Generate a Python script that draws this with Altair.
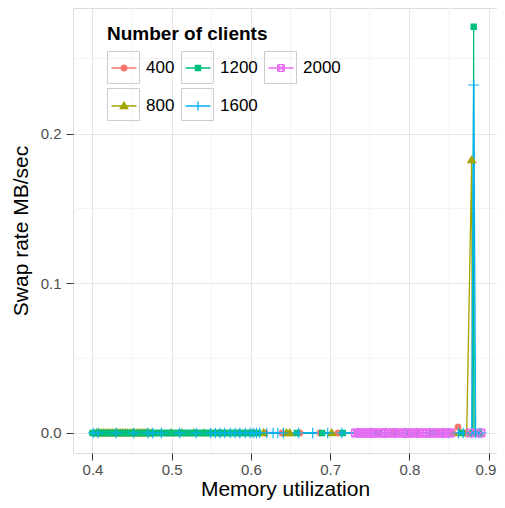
import altair as alt
import pandas as pd

# ---------------- data ----------------
series_order = ["400", "800", "1200", "1600", "2000"]
series_colors = ["#F8766D", "#A3A500", "#00BF7D", "#00B0F6", "#E76BF3"]

x400 = [0.562, 0.585, 0.603, 0.618, 0.639, 0.662, 0.687, 0.710, 0.735, 0.760,
        0.785, 0.810, 0.835, 0.852, 0.8615, 0.870]
y400 = [0.0, 0.0, 0.0, 0.0, 0.0, 0.0, 0.0, 0.0, 0.0, 0.0,
        0.0, 0.0, 0.0, 0.0, 0.004, 0.0]

x800 = [0.405, 0.408, 0.411, 0.414, 0.417, 0.420, 0.423, 0.426, 0.429, 0.432,
        0.435, 0.438, 0.441, 0.444, 0.447, 0.450, 0.453, 0.456, 0.459, 0.462,
        0.465, 0.468, 0.471, 0.475, 0.499, 0.513, 0.528, 0.541, 0.616, 0.645,
        0.649, 0.702, 0.780, 0.856, 0.8725, 0.8788, 0.8797, 0.889]
y800 = [0.0, 0.0, 0.0, 0.0, 0.0, 0.0, 0.0, 0.0, 0.0, 0.0,
        0.0, 0.0, 0.0, 0.0, 0.0, 0.0, 0.0, 0.0, 0.0, 0.0,
        0.0, 0.0, 0.0, 0.0, 0.0, 0.0, 0.0, 0.0, 0.0, 0.0,
        0.0, 0.0, 0.0, 0.0, 0.0, 0.1823, 0.0, 0.0]

x1200 = [0.400, 0.404, 0.407, 0.411, 0.415, 0.418, 0.422, 0.426, 0.430, 0.433,
         0.437, 0.441, 0.444, 0.448, 0.452, 0.456, 0.459, 0.463, 0.467, 0.470,
         0.474, 0.478, 0.482, 0.485, 0.489, 0.493, 0.496, 0.500, 0.504, 0.508,
         0.511, 0.515, 0.519, 0.522, 0.526, 0.530, 0.534, 0.537, 0.541, 0.545,
         0.548, 0.552, 0.556, 0.560, 0.563, 0.567, 0.571, 0.574, 0.578, 0.582,
         0.586, 0.589, 0.593, 0.597, 0.600, 0.604, 0.609, 0.658, 0.690, 0.716,
         0.760, 0.800, 0.830, 0.866, 0.8798, 0.8813, 0.8818, 0.886]
y1200 = [0.0, 0.0, 0.0, 0.0, 0.0, 0.0, 0.0, 0.0, 0.0, 0.0,
         0.0, 0.0, 0.0, 0.0, 0.0, 0.0, 0.0, 0.0, 0.0, 0.0,
         0.0, 0.0, 0.0, 0.0, 0.0, 0.0, 0.0, 0.0, 0.0, 0.0,
         0.0, 0.0, 0.0, 0.0, 0.0, 0.0, 0.0, 0.0, 0.0, 0.0,
         0.0, 0.0, 0.0, 0.0, 0.0, 0.0, 0.0, 0.0, 0.0, 0.0,
         0.0, 0.0, 0.0, 0.0, 0.0, 0.0, 0.0, 0.0, 0.0, 0.0,
         0.0, 0.0, 0.0, 0.0, 0.0, 0.2713, 0.0, 0.0]

x1600 = [0.401, 0.407, 0.430, 0.452, 0.470, 0.476, 0.487, 0.510, 0.531, 0.549,
         0.555, 0.561, 0.567, 0.574, 0.580, 0.586, 0.593, 0.599, 0.603, 0.607,
         0.611, 0.620, 0.628, 0.634, 0.641, 0.660, 0.678, 0.697, 0.715, 0.735,
         0.752, 0.770, 0.782, 0.795, 0.810, 0.825, 0.842, 0.850, 0.862, 0.868,
         0.8788, 0.8813, 0.8838, 0.888, 0.891]
y1600 = [0.0, 0.0, 0.0, 0.0, 0.0, 0.0, 0.0, 0.0, 0.0, 0.0,
         0.0, 0.0, 0.0, 0.0, 0.0, 0.0, 0.0, 0.0, 0.0, 0.0,
         0.0, 0.0, 0.0, 0.0, 0.0, 0.0, 0.0, 0.0, 0.0, 0.0,
         0.0, 0.0, 0.0, 0.0, 0.0, 0.0, 0.0, 0.0, 0.0, 0.0,
         0.0, 0.2324, 0.0, 0.0, 0.0]

x2000 = [0.732, 0.735, 0.738, 0.741, 0.744, 0.747, 0.750, 0.753, 0.756, 0.760,
         0.764, 0.767, 0.771, 0.775, 0.779, 0.782, 0.786, 0.790, 0.794, 0.797,
         0.801, 0.805, 0.808, 0.812, 0.816, 0.819, 0.823, 0.827, 0.830, 0.834,
         0.838, 0.841, 0.845, 0.849, 0.852, 0.877, 0.8905]
y2000 = [0.0, 0.0, 0.0, 0.0, 0.0, 0.0, 0.0, 0.0, 0.0, 0.0,
         0.0, 0.0, 0.0, 0.0, 0.0, 0.0, 0.0, 0.0, 0.0, 0.0,
         0.0, 0.0, 0.0, 0.0, 0.0, 0.0, 0.0, 0.0, 0.0, 0.0,
         0.0, 0.0, 0.0, 0.0, 0.0, 0.0, 0.0]

x_ticks = [0.4, 0.5, 0.6, 0.7, 0.8, 0.9]
y_ticks = [0.0, 0.1, 0.2]
x_minor = [0.45, 0.55, 0.65, 0.75, 0.85]
y_minor = [0.05, 0.15, 0.25]

# ---------------- build tables ----------------
rows = []
for name, xs, ys in [("400", x400, y400), ("800", x800, y800), ("1200", x1200, y1200),
                     ("1600", x1600, y1600), ("2000", x2000, y2000)]:
    for xv, yv in zip(xs, ys):
        rows.append({"series": name, "x": xv, "y": yv})
df = pd.DataFrame(rows)
legend_df = pd.DataFrame({"series": series_order})

FONT = "Liberation Sans"

# marker paths (unit box -1..1)
circle_p = "M0.68,0A0.68,0.68 0 1,1 -0.68,0A0.68,0.68 0 1,1 0.68,0Z"
tri_p = "M0,-0.95L0.95,0.62L-0.95,0.62Z"
square_p = "M-0.62,-0.62L0.62,-0.62L0.62,0.62L-0.62,0.62Z"
plus_p = "M-1.25,0L1.25,0M0,-1.25L0,1.25"
sqx_p = ("M-0.92,-0.92L0.92,-0.92M0.92,-0.92L0.92,0.92M0.92,0.92L-0.92,0.92"
         "M-0.92,0.92L-0.92,-0.92M-0.92,-0.92L0.92,0.92M-0.92,0.92L0.92,-0.92")
point_paths = [circle_p, tri_p, square_p, plus_p, sqx_p]

# legend key paths (unit = 16 px); the bare moves fix the key's full extent
ext = "M-0.99,-0.99M0.99,0.99"
ln = ext + "M-0.78,0L0.78,0"
lg_circle = ln + "M0.18,0A0.18,0.18 0 1,1 -0.18,0A0.18,0.18 0 1,1 0.18,0Z"
lg_square = ln + "M-0.16,-0.16L0.16,-0.16L0.16,0.16L-0.16,0.16Z"
lg_tri = ln + "M0,-0.24L0.23,0.16L-0.23,0.16Z"
lg_plus = ln + "M0,-0.28L0,0.28"
lg_sqx = ln + ("M-0.21,-0.21L0.21,-0.21M0.21,-0.21L0.21,0.21M0.21,0.21L-0.21,0.21M-0.21,0.21L-0.21,-0.21"
               "M-0.21,-0.21L0.21,0.21M-0.21,0.21L0.21,-0.21")
legend_paths = [lg_circle, lg_tri, lg_square, lg_plus, lg_sqx]

# key boxes; a bare move widens each key to the width of its labelled twin
box = "M-1,-1L1,-1L1,1L-1,1Z"
box3 = box + "M3.054,0"
box4 = box + "M3.645,0"
box_paths = [box3, box3, box4, box4, box4]

x_scale = alt.Scale(domain=[0.37538, 0.91073], nice=False, zero=False)
y_scale = alt.Scale(domain=[-0.013356, 0.28381], nice=False, zero=False)

x_axis = alt.Axis(values=x_ticks, format=".1f", grid=True, gridColor="#E6E6E6", gridWidth=1,
                  domain=False, tickColor="#333333", tickSize=7, tickWidth=1,
                  labelFontSize=15, labelColor="#4D4D4D", labelPadding=2, labelFont=FONT,
                  labelOffset={"condition": {"test": "datum.value > 0.85", "value": -3}, "value": 0},
                  title="Memory utilization", titleFontSize=21, titleFontWeight="normal",
                  titleColor="black", titleFont=FONT, titlePadding=1)
y_axis = alt.Axis(values=y_ticks, format=".1f", grid=True, gridColor="#E6E6E6", gridWidth=1,
                  domain=False, tickColor="#333333", tickSize=7, tickWidth=1,
                  labelFontSize=15, labelColor="#4D4D4D", labelPadding=5, labelFont=FONT,
                  title="Swap rate MB/sec", titleFontSize=21, titleFontWeight="normal",
                  titleColor="black", titleFont=FONT, titlePadding=9)

X = alt.X("x:Q", scale=x_scale, axis=x_axis)
Y = alt.Y("y:Q", scale=y_scale, axis=y_axis)

minor_x = alt.Chart(pd.DataFrame({"x": x_minor})).mark_rule(
    color="#F3F3F3", strokeWidth=1).encode(x=X)
minor_y = alt.Chart(pd.DataFrame({"y": y_minor})).mark_rule(
    color="#F3F3F3", strokeWidth=1).encode(y=Y)

lines = alt.Chart(df).mark_line(strokeWidth=1.3).encode(
    x=X, y=Y,
    color=alt.Color("series:N", scale=alt.Scale(domain=series_order, range=series_colors), legend=None),
)

points = alt.Chart(df).mark_point(size=72, strokeWidth=1.1, opacity=1).encode(
    x=X, y=Y,
    fill=alt.Fill("series:N", scale=alt.Scale(domain=series_order, range=series_colors), legend=None),
    stroke=alt.Stroke("series:N", scale=alt.Scale(domain=series_order, range=series_colors), legend=None),
    shape=alt.Shape("series:N", scale=alt.Scale(domain=series_order, range=point_paths), legend=None),
)

common_legend = dict(orient="none", legendX=34, columns=3, direction="vertical",
                     gridAlign="none", symbolSize=1024, labelFontSize=17, labelFont=FONT,
                     labelOffset=5, columnPadding=4, rowPadding=0, padding=0,
                     symbolOpacity=1, labelLimit=200)

box_legend = alt.Legend(title=None, legendY=43, labelExpr="''",
                        symbolStrokeColor="#CCCCCC", symbolFillColor="white",
                        symbolStrokeWidth=1, **common_legend)
sym_legend = alt.Legend(title="Number of clients", legendY=17, titleColor="black",
                        titleFontSize=19, titleFont=FONT, titleFontWeight="bold",
                        titlePadding=7, labelColor="black", symbolStrokeWidth=1.3,
                        **common_legend)

legend_boxes = alt.Chart(legend_df).mark_point(opacity=0, filled=False).encode(
    shape=alt.Shape("series:N", scale=alt.Scale(domain=series_order, range=box_paths),
                    legend=box_legend),
)

legend_syms = alt.Chart(legend_df).mark_point(opacity=0).encode(
    fill=alt.Fill("series:N", scale=alt.Scale(domain=series_order, range=series_colors), legend=sym_legend),
    stroke=alt.Stroke("series:N", scale=alt.Scale(domain=series_order, range=series_colors), legend=sym_legend),
    shape=alt.Shape("series:N", scale=alt.Scale(domain=series_order, range=legend_paths), legend=sym_legend),
)

chart = alt.layer(minor_x, minor_y, lines, points, legend_boxes, legend_syms).resolve_scale(
    color="independent", fill="independent", stroke="independent", shape="independent"
).properties(
    width=424, height=445,
    autosize=alt.AutoSizeParams(type="none"),
    padding={"left": 65, "top": 0, "right": 0, "bottom": 47},
).configure_view(stroke="#7F7F7F", strokeWidth=1).configure(font=FONT)

chart.save("out.html", embed_options={"renderer": "svg", "actions": False})
